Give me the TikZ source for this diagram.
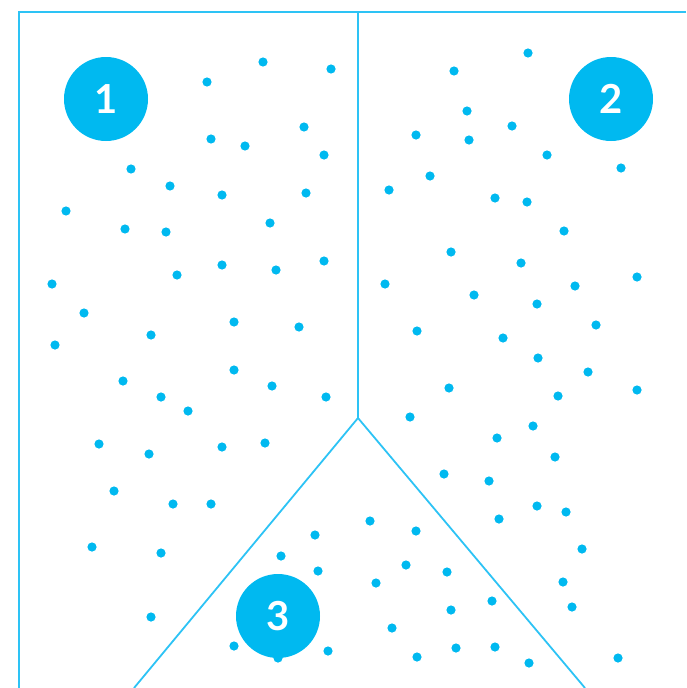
\documentclass[tikz,border=0pt]{standalone}
\usepackage{fontspec}
\setmainfont{Lato}
\usepackage{tikz}
\usetikzlibrary{calc}

\definecolor{clusterblue}{RGB}{0,185,240}
\definecolor{edgeblue}{RGB}{45,195,245}
\tikzset{
  cell/.style={draw=edgeblue, line width=1.8pt},
  pt/.style={fill=clusterblue},
  badge/.style={circle, fill=clusterblue, minimum size=84pt, inner sep=0pt,
                text=white, font=\fontsize{40}{40}\selectfont\bfseries}
}

\begin{document}
\begin{tikzpicture}[x=1pt, y=-1pt]
				\useasboundingbox (0,0) rectangle (686,688);
				
				% Cell borders
				\coordinate (meet) at (358,418);
				\draw[cell] (19,688) -- (19,12) -- (686,12);
				\draw[cell] (358,12) -- (meet);
				\draw[cell] (134,688) -- (meet) -- (585,688);
				
				% Points of cluster 1
				\foreach \x/\y in {263/62, 331/69, 207/82, 304/127, 211/139, 245/146, 324/155,
				                   131/169, 170/186, 222/195, 306/193, 66/211, 270/223, 125/229,
				                   166/232, 222/265, 276/270, 324/261, 177/275, 52/284, 84/313,
				                   234/322, 299/327, 151/335, 55/345, 234/370, 123/381, 272/386,
				                   326/397, 161/397, 188/411, 99/444, 149/454, 222/447, 265/443,
				                   114/491, 173/504, 211/504, 92/547, 161/553, 151/617}
				  \fill[pt] (\x,\y) circle (4.6);
				
				% Points of cluster 2
				\foreach \x/\y in {528/53, 454/71, 467/111, 512/126, 416/135, 469/140, 547/155,
				                   621/168, 430/176, 389/190, 495/198, 527/202, 564/231, 451/252,
				                   521/263, 637/277, 385/284, 575/286, 474/295, 537/304, 596/325,
				                   417/331, 503/338, 538/358, 588/372, 449/388, 637/390, 558/396,
				                   410/417, 533/426, 497/438, 555/457, 444/474, 489/481, 537/506,
				                   566/512, 499/519, 582/549, 563/582, 572/607, 618/658}
				  \fill[pt] (\x,\y) circle (4.6);
				
				% Points of cluster 3
				\foreach \x/\y in {315/535, 281/556, 318/571, 234/646, 328/651, 278/658, 370/521,
				                   416/531, 406/565, 447/572, 376/583, 492/601, 451/610, 392/628,
				                   417/657, 456/648, 495/647, 529/663}
				  \fill[pt] (\x,\y) circle (4.6);
				
				% Cluster badges
				\node[badge] (one) at (106,99) {1};
				\node[badge] (two) at (611,99) {2};
				\node[badge] (three) at (278,616) {3};
			\end{tikzpicture}
\end{document}
